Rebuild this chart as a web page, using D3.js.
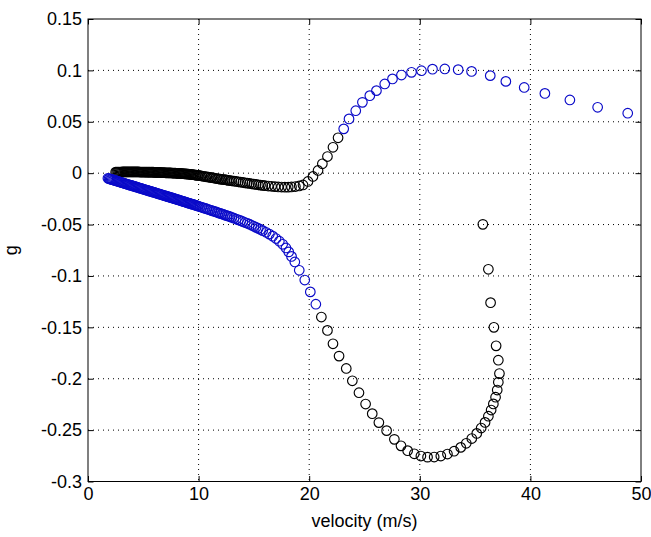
<!doctype html>
<html lang="en">
<head>
    <meta charset="utf-8">
    <title>g vs velocity</title>
    <script src="https://d3js.org/d3.v7.min.js"></script>
    <style>
        body { margin: 0; background: #fff; }
        text { font-family: "Liberation Sans", Arial, sans-serif; }
    </style>
</head>
<body>
<script>
    // [velocity, g], one array per branch/colour
    // (points are very dense at low speed, so the band reads as solid)
    var upperBlack = [
        [2.5,0.0010],[2.6,0.0010],[2.7,0.0011],[2.8,0.0011],[2.9,0.0011],[3.0,0.0011],[3.1,0.0012],[3.2,0.0012],
        [3.3,0.0012],[3.4,0.0012],[3.5,0.0012],[3.6,0.0012],[3.7,0.0012],[3.8,0.0012],[3.9,0.0012],[4.0,0.0012],
        [4.1,0.0012],[4.2,0.0012],[4.3,0.0012],[4.4,0.0012],[4.5,0.0012],[4.6,0.0012],[4.7,0.0011],[4.8,0.0011],
        [4.9,0.0011],[5.0,0.0011],[5.1,0.0011],[5.2,0.0011],[5.3,0.0010],[5.4,0.0010],[5.5,0.0010],[5.6,0.0010],
        [5.7,0.0009],[5.8,0.0009],[5.9,0.0009],[6.0,0.0008],[6.1,0.0008],[6.2,0.0008],[6.3,0.0007],[6.4,0.0007],
        [6.5,0.0007],[6.6,0.0006],[6.7,0.0006],[6.8,0.0005],[6.9,0.0005],[7.0,0.0004],[7.1,0.0004],[7.2,0.0003],
        [7.3,0.0003],[7.4,0.0002],[7.5,0.0002],[7.6,0.0001],[7.7,0.0001],[7.8,0.0000],[7.9,0.0000],[8.0,-0.0001],
        [8.1,-0.0001],[8.2,-0.0002],[8.3,-0.0003],[8.4,-0.0003],[8.5,-0.0004],[8.6,-0.0005],[8.7,-0.0006],[8.8,-0.0007],
        [8.9,-0.0008],[9.0,-0.0009],[9.1,-0.0010],[9.2,-0.0011],[9.3,-0.0012],[9.4,-0.0013],[9.5,-0.0015],[9.6,-0.0016],
        [9.7,-0.0018],[9.8,-0.0019],[9.9,-0.0021],[10.0,-0.0022],
        [10.15,-0.0025],[10.3,-0.0028],[10.45,-0.0030],[10.6,-0.0033],[10.75,-0.0036],[10.9,-0.0038],[11.05,-0.0041],[11.2,-0.0044],
        [11.35,-0.0047],[11.5,-0.0050],[11.65,-0.0052],[11.8,-0.0055],[11.95,-0.0058],[12.1,-0.0060],[12.25,-0.0062],[12.4,-0.0064],
        [12.55,-0.0067],[12.7,-0.0070],[12.85,-0.0072],[13.0,-0.0074],
        [13.2,-0.0078],[13.4,-0.0081],[13.6,-0.0084],[13.8,-0.0087],[14.0,-0.0090],[14.2,-0.0094],[14.4,-0.0097],[14.6,-0.0100],
        [14.8,-0.0103],[15.0,-0.0107],[15.2,-0.0110],[15.4,-0.0113],[15.6,-0.0116],[15.8,-0.0119],[16.0,-0.0121],
        [16.3,-0.0125],[16.6,-0.0128],[16.9,-0.0131],[17.2,-0.0134],[17.5,-0.0135],[17.8,-0.0136],[18.1,-0.0136],[18.4,-0.0134],
        [18.75,-0.0130],[19.1,-0.0124],[19.44,-0.0115],[19.89,-0.0081],[20.34,-0.0032],[20.80,0.0026],[21.19,0.0091],[21.65,0.0162],
        [22.15,0.0252],[22.61,0.0344]
    ];
    var upperBlue = [
        [23.12,0.0431],[23.60,0.0528],[24.21,0.0608],[24.81,0.0689],[25.48,0.0754],[26.08,0.0803],[26.83,0.0868],[27.53,0.0917],
        [28.34,0.0955],[29.25,0.0981],[30.15,0.0997],[31.15,0.1012],[32.26,0.1014],[33.47,0.1007],[34.68,0.0990],[36.37,0.0949],
        [37.78,0.0893],[39.44,0.0834],[41.31,0.0776],[43.57,0.0712],[46.08,0.0641],[48.80,0.0583]
    ];
    var lowerBlue = [
        [1.8,-0.0050],[1.9,-0.0053],[2.0,-0.0057],[2.1,-0.0060],[2.2,-0.0063],[2.3,-0.0066],[2.4,-0.0070],[2.5,-0.0073],
        [2.6,-0.0076],[2.7,-0.0080],[2.8,-0.0083],[2.9,-0.0086],[3.0,-0.0090],[3.1,-0.0093],[3.2,-0.0096],[3.3,-0.0099],
        [3.4,-0.0103],[3.5,-0.0106],[3.6,-0.0109],[3.7,-0.0113],[3.8,-0.0116],[3.9,-0.0119],[4.0,-0.0122],[4.1,-0.0126],
        [4.2,-0.0129],[4.3,-0.0132],[4.4,-0.0136],[4.5,-0.0139],[4.6,-0.0142],[4.7,-0.0146],[4.8,-0.0149],[4.9,-0.0152],
        [5.0,-0.0155],[5.1,-0.0159],[5.2,-0.0162],[5.3,-0.0165],[5.4,-0.0168],[5.5,-0.0172],[5.6,-0.0175],[5.7,-0.0178],
        [5.8,-0.0182],[5.9,-0.0185],[6.0,-0.0188],[6.1,-0.0191],[6.2,-0.0195],[6.3,-0.0198],[6.4,-0.0201],[6.5,-0.0205],
        [6.6,-0.0208],[6.7,-0.0211],[6.8,-0.0215],[6.9,-0.0218],[7.0,-0.0221],[7.1,-0.0224],[7.2,-0.0228],[7.3,-0.0231],
        [7.4,-0.0234],[7.5,-0.0238],[7.6,-0.0241],[7.7,-0.0244],[7.8,-0.0248],[7.9,-0.0251],[8.0,-0.0254],[8.1,-0.0258],
        [8.2,-0.0261],[8.3,-0.0264],[8.4,-0.0268],[8.5,-0.0271],[8.6,-0.0274],[8.7,-0.0278],[8.8,-0.0281],[8.9,-0.0284],
        [9.0,-0.0288],[9.1,-0.0291],[9.2,-0.0294],[9.3,-0.0298],[9.4,-0.0301],[9.5,-0.0304],[9.6,-0.0308],[9.7,-0.0311],
        [9.8,-0.0315],[9.9,-0.0318],[10.0,-0.0322],
        [10.15,-0.0327],[10.3,-0.0332],[10.45,-0.0338],[10.6,-0.0343],[10.75,-0.0348],[10.9,-0.0354],[11.05,-0.0359],[11.2,-0.0364],
        [11.35,-0.0370],[11.5,-0.0375],[11.65,-0.0380],[11.8,-0.0386],[11.95,-0.0391],[12.1,-0.0397],[12.25,-0.0402],[12.4,-0.0408],
        [12.55,-0.0413],[12.7,-0.0419],[12.85,-0.0424],[13.0,-0.0430],
        [13.2,-0.0438],[13.4,-0.0446],[13.6,-0.0454],[13.8,-0.0462],[14.0,-0.0471],[14.2,-0.0480],[14.4,-0.0488],[14.6,-0.0497],
        [14.8,-0.0507],[15.0,-0.0517],[15.2,-0.0527],[15.4,-0.0537],[15.6,-0.0548],[15.8,-0.0559],
        [16.1,-0.0575],[16.4,-0.0593],[16.7,-0.0613],[17.0,-0.0636],[17.3,-0.0662],[17.6,-0.0692],[17.9,-0.0728],[18.15,-0.0766],
        [18.4,-0.0810],[18.7,-0.0864],[19.1,-0.0945],[19.6,-0.1040],[20.1,-0.1155],[20.6,-0.1275]
    ];
    var lowerBlack = [
        [21.1,-0.1400],[21.65,-0.1530],[22.15,-0.1660],[22.7,-0.1780],[23.35,-0.1900],[23.9,-0.2020],[24.5,-0.2136],[25.1,-0.2246],
        [25.7,-0.2340],[26.3,-0.2427],[27.0,-0.2505],[27.7,-0.2590],[28.3,-0.2653],[28.9,-0.2700],[29.5,-0.2730],[30.1,-0.2752],
        [30.7,-0.2763],[31.3,-0.2762],[31.9,-0.2752],[32.5,-0.2733],[33.1,-0.2705],[33.7,-0.2668],[34.2,-0.2628],[34.7,-0.2582],
        [35.15,-0.2532],[35.55,-0.2480],[35.9,-0.2425],[36.2,-0.2365],[36.45,-0.2305],[36.65,-0.2245],[36.85,-0.2180],[37.0,-0.2110],
        [37.1,-0.2035],[37.2,-0.1950],[37.1,-0.1820],[36.9,-0.1680],[36.7,-0.1500],[36.4,-0.1260],[36.2,-0.0935],[35.7,-0.0498]
    ];

    var xTicks = [0, 10, 20, 30, 40, 50];
    var yTicks = [-0.3, -0.25, -0.2, -0.15, -0.1, -0.05, 0, 0.05, 0.1, 0.15];

    const width  = 651;  const height = 537;
    const plotLeft = 88, plotRight = 641, plotTop = 19, plotBottom = 481.5;
    const tickLen = 5.5;
    const blue = "#0a0ac8";

    const svg = d3.select("body")
                  .append("svg")
                  .attr("width", width)
                  .attr("height", height);

    const x = d3.scaleLinear().domain([0, 50]).range([plotLeft, plotRight]);
    const y = d3.scaleLinear().domain([-0.3, 0.15]).range([plotBottom, plotTop]);

    const yFmt = function(d) { return String(+d.toFixed(2)); };

    // dotted grid at inner ticks
    svg.append("g").selectAll("line")
        .data(xTicks.slice(1, -1))
        .enter().append("line")
        .attr("x1", d => x(d)).attr("x2", d => x(d))
        .attr("y1", plotTop).attr("y2", plotBottom)
        .attr("stroke", "#000").attr("stroke-width", 1)
        .attr("stroke-dasharray", "1,4");
    svg.append("g").selectAll("line")
        .data(yTicks.slice(1, -1))
        .enter().append("line")
        .attr("x1", plotLeft).attr("x2", plotRight)
        .attr("y1", d => y(d)).attr("y2", d => y(d))
        .attr("stroke", "#000").attr("stroke-width", 1)
        .attr("stroke-dasharray", "1,4");

    // axes, ticks pointing inward
    svg.append("g")
        .attr("transform", "translate(0," + plotBottom + ")")
        .call(d3.axisBottom(x).tickValues(xTicks).tickSizeInner(-tickLen).tickSizeOuter(0).tickPadding(6))
        .call(g => g.select(".domain").remove());
    svg.append("g")
        .attr("transform", "translate(0," + plotTop + ")")
        .call(d3.axisTop(x).tickValues(xTicks).tickSizeInner(-tickLen).tickSizeOuter(0).tickFormat(""))
        .call(g => g.select(".domain").remove());
    svg.append("g")
        .attr("transform", "translate(" + plotLeft + ",0)")
        .call(d3.axisLeft(y).tickValues(yTicks).tickFormat(yFmt).tickSizeInner(-tickLen).tickSizeOuter(0).tickPadding(6))
        .call(g => g.select(".domain").remove());
    svg.append("g")
        .attr("transform", "translate(" + plotRight + ",0)")
        .call(d3.axisRight(y).tickValues(yTicks).tickSizeInner(-tickLen).tickSizeOuter(0).tickFormat(""))
        .call(g => g.select(".domain").remove());

    svg.selectAll(".tick text")
        .attr("fill", "#000")
        .style("font-size", "18px")
        .style("font-family", "'Liberation Sans', Arial, sans-serif");
    svg.selectAll(".tick line").attr("stroke", "#000");

    // box
    svg.append("rect")
        .attr("x", plotLeft).attr("y", plotTop)
        .attr("width", plotRight - plotLeft).attr("height", plotBottom - plotTop)
        .attr("fill", "none").attr("stroke", "#000").attr("stroke-width", 1);

    // markers: black first, blue on top
    function drawPoints(data, colour) {
        svg.append("g").selectAll("circle")
            .data(data)
            .enter().append("circle")
            .attr("cx", d => x(d[0]))
            .attr("cy", d => y(d[1]))
            .attr("r", 4.8)
            .attr("fill", "none")
            .attr("stroke", colour)
            .attr("stroke-width", 1.15);
    }
    drawPoints(lowerBlack, "#000");
    drawPoints(upperBlack, "#000");
    drawPoints(upperBlue, blue);
    drawPoints(lowerBlue, blue);

    // axis labels
    svg.append("text")
        .attr("x", (plotLeft + plotRight) / 2)
        .attr("y", 527)
        .attr("text-anchor", "middle")
        .style("font-size", "18px")
        .text("velocity (m/s)");
    svg.append("text")
        .attr("transform", "translate(17," + ((plotTop + plotBottom) / 2) + ") rotate(-90)")
        .attr("text-anchor", "middle")
        .style("font-size", "18px")
        .text("g");
</script>
</body>
</html>
